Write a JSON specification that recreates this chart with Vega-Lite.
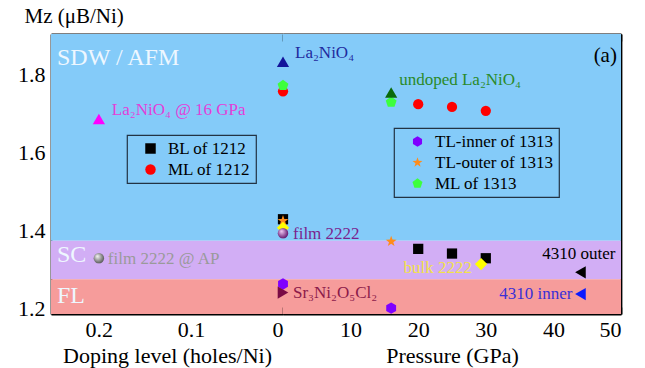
{
  "$schema": "https://vega.github.io/schema/vega-lite/v6.json",
  "padding": {"left": 17, "top": 5, "right": 5, "bottom": 2},
  "spacing": 0,
  "bounds": "flush",
  "config": {
    "view": {"stroke": null},
    "font": "Liberation Serif",
    "axis": {"grid": false, "domainColor": "#000", "domainWidth": 1.8, "tickColor": "#000", "tickWidth": 1.5,
      "labelFont": "Liberation Serif", "labelFontSize": 22, "labelColor": "#000",
      "titleFont": "Liberation Serif", "titleFontSize": 22, "titleFontWeight": "normal", "titleColor": "#000", "zindex": 1},
    "legend": {"labelFont": "Liberation Serif", "labelFontSize": 17, "labelColor": "#000", "strokeColor": "#223344", "strokeWidth": 1.2,
      "padding": 5, "symbolOffset": 10, "labelOffset": 9, "rowPadding": 3, "symbolSize": 110, "symbolStrokeWidth": 0, "title": null, "orient": "none"}
  },
  "datasets": {
    "bands": [
      {"region": "SDW", "lo": 1.373, "hi": 1.903},
      {"region": "SC", "lo": 1.274, "hi": 1.373},
      {"region": "FL", "lo": 1.185, "hi": 1.274}
    ],
    "p1212": [
      {"series": "BL of 1212", "p": 0, "mz": 1.428},
      {"series": "BL of 1212", "p": 20, "mz": 1.352},
      {"series": "BL of 1212", "p": 25, "mz": 1.34},
      {"series": "BL of 1212", "p": 30, "mz": 1.328},
      {"series": "ML of 1212", "p": 0, "mz": 1.756},
      {"series": "ML of 1212", "p": 20, "mz": 1.723},
      {"series": "ML of 1212", "p": 25, "mz": 1.716},
      {"series": "ML of 1212", "p": 30, "mz": 1.706}
    ],
    "p1313": [
      {"series": "TL-inner of 1313", "p": 0, "mz": 1.262},
      {"series": "TL-inner of 1313", "p": 16, "mz": 1.2},
      {"series": "TL-outer of 1313", "p": 0, "mz": 1.424},
      {"series": "TL-outer of 1313", "p": 16, "mz": 1.371},
      {"series": "ML of 1313", "p": 0, "mz": 1.771},
      {"series": "ML of 1313", "p": 16, "mz": 1.728}
    ],
    "others": [
      {"series": "La2NiO4", "p": 0, "mz": 1.832},
      {"series": "undoped La2NiO4", "p": 16, "mz": 1.753},
      {"series": "bulk 2222", "p": 0, "mz": 1.406},
      {"series": "bulk 2222", "p": 29.3, "mz": 1.313},
      {"series": "Sr3Ni2O5Cl2", "p": 0, "mz": 1.24},
      {"series": "4310 outer", "p": 44, "mz": 1.292},
      {"series": "4310 inner", "p": 44, "mz": 1.236}
    ]
  },
  "hconcat": [
    {
      "width": 232,
      "height": 280,
      "layer": [
        {
          "data": {"name": "bands"},
          "mark": {"type": "rect"},
          "encoding": {
            "y": {"field": "hi", "type": "quantitative", "scale": {"domain": [1.185, 1.903], "nice": false, "zero": false},
              "axis": {"orient": "left", "values": [1.2, 1.3, 1.4, 1.5, 1.6, 1.7, 1.8, 1.9], "format": ".1f",
                "labelExpr": "round(datum.value*10) % 2 == 0 ? datum.label : ''",
                "tickSize": {"condition": {"test": "round(datum.value*10) % 2 == 1", "value": -4}, "value": -8},
                "labelPadding": 14, "titleFontSize": 21,
                "title": "Mz (μB/Ni)", "titleAngle": 0, "titleAlign": "left", "titleBaseline": "alphabetic", "titleX": -27, "titleY": -12}},
            "y2": {"field": "lo"},
            "color": {"field": "region", "type": "nominal", "scale": {"domain": ["SDW", "SC", "FL"], "range": ["#84cbf9", "#d2aef5", "#f69c9b"]}, "legend": null}
          }
        },
        {
          "data": {"values": [{"doping": 0.2, "mz": 1.685}]},
          "mark": {"type": "point", "shape": "triangle-up", "filled": true, "opacity": 1, "size": 150, "color": "#ff00ff"},
          "encoding": {
            "x": {"field": "doping", "type": "quantitative", "scale": {"domain": [0, 0.252], "reverse": true, "nice": false, "zero": false},
              "axis": {"orient": "bottom", "values": [0.2, 0.15, 0.1, 0.05, 0], "format": ".1~f",
                "labelExpr": "datum.value == 0.2 || datum.value == 0.1 || datum.value == 0 ? datum.label : ''",
                "tickSize": {"condition": {"test": "datum.value == 0.15 || datum.value == 0.05", "value": -4}, "value": -7},
                "labelPadding": 12, "titlePadding": 5, "title": "Doping level (holes/Ni)"}},
            "y": {"field": "mz", "type": "quantitative", "axis": null}
          }
        },
        {
          "data": {"values": [{"doping": 0.2, "mz": 1.328}]},
          "mark": {"type": "point", "shape": "circle", "filled": true, "opacity": 1, "size": 110,
            "fill": {"gradient": "radial", "x1": 0.35, "y1": 0.3, "r1": 0.02, "x2": 0.45, "y2": 0.45, "r2": 0.6,
              "stops": [{"offset": 0, "color": "#f4f4f4"}, {"offset": 1, "color": "#505050"}]}},
          "encoding": {
            "x": {"field": "doping", "type": "quantitative",
              "axis": {"orient": "top", "values": [0.2, 0.15, 0.1, 0.05, 0], "labels": false, "title": null,
                "tickSize": {"condition": {"test": "datum.value == 0.15", "value": -4}, "value": -7}}},
            "y": {"field": "mz", "type": "quantitative", "axis": null}
          }
        },
        {
          "data": {"values": [{"doping": 0.2455, "mz": 1.841, "label": "SDW / AFM"}, {"doping": 0.2455, "mz": 1.336, "label": "SC"}, {"doping": 0.2455, "mz": 1.232, "label": "FL"}]},
          "mark": {"type": "text", "align": "left", "baseline": "middle", "fontSize": 24, "color": "#eef7ff", "font": "Liberation Serif"},
          "encoding": {
            "x": {"field": "doping", "type": "quantitative", "axis": null},
            "y": {"field": "mz", "type": "quantitative", "axis": null},
            "text": {"field": "label"}
          }
        },
        {
          "data": {"values": [{"doping": 0.2, "mz": 1.685, "label": "La₂NiO₄ @ 16 GPa"}]},
          "mark": {"type": "text", "align": "left", "baseline": "middle", "fontSize": 17, "dx": 13, "dy": -9, "color": "#e23ed8", "font": "Liberation Serif"},
          "encoding": {
            "x": {"field": "doping", "type": "quantitative", "axis": null},
            "y": {"field": "mz", "type": "quantitative", "axis": null},
            "text": {"field": "label"}
          }
        },
        {
          "data": {"values": [{"doping": 0.2, "mz": 1.328, "label": "film 2222 @ AP"}]},
          "mark": {"type": "text", "align": "left", "baseline": "middle", "fontSize": 17, "dx": 9, "dy": 1, "color": "#9a9a9a", "font": "Liberation Serif"},
          "encoding": {
            "x": {"field": "doping", "type": "quantitative", "axis": null},
            "y": {"field": "mz", "type": "quantitative", "axis": null},
            "text": {"field": "label"}
          }
        }
      ],
      "resolve": {"axis": {"x": "independent", "y": "independent"}, "scale": {"color": "independent"}}
    },
    {
      "width": 338,
      "height": 280,
      "layer": [
        {
          "data": {"name": "bands"},
          "mark": {"type": "rect"},
          "encoding": {
            "y": {"field": "hi", "type": "quantitative", "scale": {"domain": [1.185, 1.903], "nice": false, "zero": false},
              "axis": {"orient": "right", "values": [1.2, 1.3, 1.4, 1.5, 1.6, 1.7, 1.8, 1.9], "labels": false, "title": null, "tickSize": -8}},
            "y2": {"field": "lo"},
            "color": {"field": "region", "type": "nominal", "scale": {"domain": ["SDW", "SC", "FL"], "range": ["#84cbf9", "#d2aef5", "#f69c9b"]}, "legend": null}
          }
        },
        {
          "data": {"name": "p1212"},
          "mark": {"type": "point", "filled": true, "opacity": 1},
          "encoding": {
            "x": {"field": "p", "type": "quantitative", "scale": {"domain": [0, 50], "nice": false, "zero": false},
              "axis": {"orient": "bottom", "values": [0, 5, 10, 15, 20, 25, 30, 35, 40, 45, 50],
                "labelExpr": "datum.value % 10 == 0 && datum.value > 0 ? datum.label : ''",
                "tickSize": -7, "labelPadding": 12, "titlePadding": 5, "title": "Pressure (GPa)"}},
            "y": {"field": "mz", "type": "quantitative", "axis": null},
            "color": {"field": "series", "type": "nominal", "scale": {"domain": ["BL of 1212", "ML of 1212"], "range": ["#000000", "#ff0000"]},
              "legend": {"legendX": -156, "legendY": 101}},
            "shape": {"field": "series", "type": "nominal", "scale": {"domain": ["BL of 1212", "ML of 1212"], "range": ["square", "circle"]},
              "legend": {"legendX": -156, "legendY": 101}},
            "size": {"value": 105}
          }
        },
        {
          "data": {"name": "p1313"},
          "mark": {"type": "point", "filled": true, "opacity": 1},
          "encoding": {
            "x": {"field": "p", "type": "quantitative",
              "axis": {"orient": "top", "values": [0, 5, 10, 15, 20, 25, 30, 35, 40, 45, 50], "labels": false, "title": null, "tickSize": -7}},
            "y": {"field": "mz", "type": "quantitative", "axis": null},
            "color": {"field": "series", "type": "nominal", "scale": {"domain": ["TL-inner of 1313", "TL-outer of 1313", "ML of 1313"], "range": ["#7f00ff", "#ff8c1a", "#3dff3d"]},
              "legend": {"legendX": 111, "legendY": 94}},
            "shape": {"field": "series", "type": "nominal", "scale": {"domain": ["TL-inner of 1313", "TL-outer of 1313", "ML of 1313"],
              "range": ["M0,-1L0.866,-0.5L0.866,0.5L0,1L-0.866,0.5L-0.866,-0.5Z",
                "M0,-1L0.235,-0.324L0.951,-0.309L0.38,0.124L0.588,0.809L0,0.4L-0.588,0.809L-0.38,0.124L-0.951,-0.309L-0.235,-0.324Z",
                "M0,-1L0.951,-0.309L0.588,0.809L-0.588,0.809L-0.951,-0.309Z"]},
              "legend": {"legendX": 111, "legendY": 94}},
            "size": {"value": 130}
          }
        },
        {
          "data": {"name": "others"},
          "mark": {"type": "point", "filled": true, "opacity": 1},
          "encoding": {
            "x": {"field": "p", "type": "quantitative", "axis": null},
            "y": {"field": "mz", "type": "quantitative", "axis": null},
            "color": {"field": "series", "type": "nominal", "legend": null,
              "scale": {"domain": ["La2NiO4", "undoped La2NiO4", "bulk 2222", "Sr3Ni2O5Cl2", "4310 outer", "4310 inner"],
                "range": ["#14149a", "#0a6a0a", "#ffff00", "#7a0a45", "#000000", "#0a1aff"]}},
            "shape": {"field": "series", "type": "nominal", "legend": null,
              "scale": {"domain": ["La2NiO4", "undoped La2NiO4", "bulk 2222", "Sr3Ni2O5Cl2", "4310 outer", "4310 inner"],
                "range": ["triangle-up", "triangle-up", "diamond", "triangle-right", "triangle-left", "triangle-left"]}},
            "size": {"value": 150}
          }
        },
        {
          "data": {"values": [{"p": 0, "mz": 1.392}]},
          "mark": {"type": "point", "shape": "circle", "filled": true, "opacity": 1, "size": 110,
            "fill": {"gradient": "radial", "x1": 0.35, "y1": 0.3, "r1": 0.02, "x2": 0.45, "y2": 0.45, "r2": 0.6,
              "stops": [{"offset": 0, "color": "#f0c8f4"}, {"offset": 1, "color": "#5a0a66"}]}},
          "encoding": {
            "x": {"field": "p", "type": "quantitative", "axis": null},
            "y": {"field": "mz", "type": "quantitative", "axis": null}
          }
        },
        {
          "data": {"values": [{"p": 0, "mz": 1.832, "label": "La₂NiO₄"}]},
          "mark": {"type": "text", "align": "left", "baseline": "middle", "fontSize": 17, "dx": 12, "dy": -9, "color": "#1f2a9e", "font": "Liberation Serif"},
          "encoding": {"x": {"field": "p", "type": "quantitative", "axis": null}, "y": {"field": "mz", "type": "quantitative", "axis": null}, "text": {"field": "label"}}
        },
        {
          "data": {"values": [{"p": 16, "mz": 1.753, "label": "undoped La₂NiO₄"}]},
          "mark": {"type": "text", "align": "left", "baseline": "middle", "fontSize": 17, "dx": 8, "dy": -12, "color": "#2a8a2a", "font": "Liberation Serif"},
          "encoding": {"x": {"field": "p", "type": "quantitative", "axis": null}, "y": {"field": "mz", "type": "quantitative", "axis": null}, "text": {"field": "label"}}
        },
        {
          "data": {"values": [{"p": 0, "mz": 1.392, "label": "film 2222"}]},
          "mark": {"type": "text", "align": "left", "baseline": "middle", "fontSize": 17, "dx": 10, "dy": 1, "color": "#7b1f8e", "font": "Liberation Serif"},
          "encoding": {"x": {"field": "p", "type": "quantitative", "axis": null}, "y": {"field": "mz", "type": "quantitative", "axis": null}, "text": {"field": "label"}}
        },
        {
          "data": {"values": [{"p": 0, "mz": 1.24, "label": "Sr₃Ni₂O₅Cl₂"}]},
          "mark": {"type": "text", "align": "left", "baseline": "middle", "fontSize": 17, "dx": 10, "dy": 0, "color": "#8b1a4a", "font": "Liberation Serif"},
          "encoding": {"x": {"field": "p", "type": "quantitative", "axis": null}, "y": {"field": "mz", "type": "quantitative", "axis": null}, "text": {"field": "label"}}
        },
        {
          "data": {"values": [{"p": 29.3, "mz": 1.313, "label": "bulk 2222"}]},
          "mark": {"type": "text", "align": "right", "baseline": "middle", "fontSize": 17, "dx": -9, "dy": 4, "color": "#f2e24a", "font": "Liberation Serif"},
          "encoding": {"x": {"field": "p", "type": "quantitative", "axis": null}, "y": {"field": "mz", "type": "quantitative", "axis": null}, "text": {"field": "label"}}
        },
        {
          "data": {"values": [{"p": 44, "mz": 1.292, "label": "4310 outer"}]},
          "mark": {"type": "text", "align": "right", "baseline": "middle", "fontSize": 17, "dx": 35, "dy": -18, "color": "#000000", "font": "Liberation Serif"},
          "encoding": {"x": {"field": "p", "type": "quantitative", "axis": null}, "y": {"field": "mz", "type": "quantitative", "axis": null}, "text": {"field": "label"}}
        },
        {
          "data": {"values": [{"p": 44, "mz": 1.236, "label": "4310 inner"}]},
          "mark": {"type": "text", "align": "right", "baseline": "middle", "fontSize": 17, "dx": -8, "dy": 0, "color": "#3a2fd6", "font": "Liberation Serif"},
          "encoding": {"x": {"field": "p", "type": "quantitative", "axis": null}, "y": {"field": "mz", "type": "quantitative", "axis": null}, "text": {"field": "label"}}
        },
        {
          "data": {"values": [{"p": 49.4, "mz": 1.846, "label": "(a)"}]},
          "mark": {"type": "text", "align": "right", "baseline": "middle", "fontSize": 21, "color": "#000000", "font": "Liberation Serif"},
          "encoding": {"x": {"field": "p", "type": "quantitative", "axis": null}, "y": {"field": "mz", "type": "quantitative", "axis": null}, "text": {"field": "label"}}
        }
      ],
      "resolve": {"axis": {"x": "independent", "y": "independent"}, "scale": {"color": "independent", "shape": "independent"}}
    }
  ]
}
